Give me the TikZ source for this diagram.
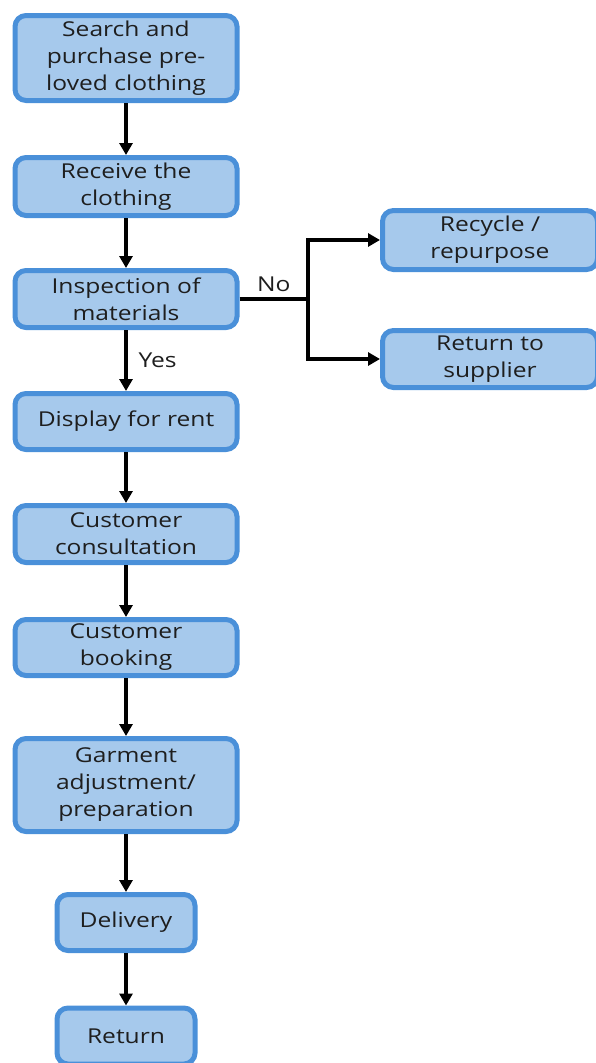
\documentclass[tikz,border=0pt]{standalone}
\usepackage{fontspec}
\setmainfont{Open Sans}[FakeStretch=1.2]
\usetikzlibrary{arrows.meta}
\definecolor{boxfill}{RGB}{166,201,236}
\definecolor{boxline}{RGB}{74,144,217}
\definecolor{boxtext}{RGB}{30,30,30}
\begin{document}
\begin{tikzpicture}[x=1pt,y=-1pt,
	every node/.style={rounded corners=11pt,draw=boxline,fill=boxfill,line width=5pt,
		align=center,text=boxtext,inner sep=0pt,
		font=\fontsize{20.5}{27}\selectfont},
	wide/.style={minimum width=222pt},
	narrow/.style={minimum width=138pt},
	lbl/.style={draw=none,fill=none,rounded corners=0pt},
	flow/.style={line width=3.5pt,-{Triangle[width=13pt,length=12pt]}}]
\useasboundingbox (0,0) rectangle (595,1063);
\node[wide,minimum height=85pt] (search) at (126,58) {Search and\\purchase pre-\\loved clothing};
\node[wide,minimum height=58pt] (receive) at (126,186.5) {Receive the\\clothing};
\node[wide,minimum height=57pt] (inspect) at (126,299) {Inspection of\\materials};
\node[wide,minimum height=56pt] (display) at (126,421.5) {Display for rent};
\node[wide,minimum height=57pt] (consult) at (126,534) {Customer\\consultation};
\node[wide,minimum height=56pt] (booking) at (126,647.5) {Customer\\booking};
\node[wide,minimum height=93pt] (garment) at (126,785) {Garment\\adjustment/\\preparation};
\node[narrow,minimum height=56pt] (delivery) at (126,922.5) {Delivery};
\node[narrow,minimum height=56pt] (return) at (126,1036) {Return};
\node[minimum width=215pt,minimum height=59pt] (recycle) at (490,240) {Recycle /\\repurpose};
\node[minimum width=215pt,minimum height=57pt] (supplier) at (490,359) {Return to\\supplier};
% main line
\draw[flow] (search) -- (receive);
\draw[flow] (receive) -- (inspect);
\draw[flow] (inspect) -- (display) node[lbl,midway,right=10pt] {Yes};
\draw[flow] (display) -- (consult);
\draw[flow] (consult) -- (booking);
\draw[flow] (booking) -- (garment);
\draw[flow] (garment) -- (delivery);
\draw[flow] (delivery) -- (return);
% rejected items
\coordinate (split) at (308,299);
\draw[line width=3.5pt] (inspect.east) -- (split) node[lbl,midway,above=5pt] {No};
\draw[flow] (split) |- (recycle.west);
\draw[flow] (split) |- (supplier.west);
\end{tikzpicture}
\end{document}
